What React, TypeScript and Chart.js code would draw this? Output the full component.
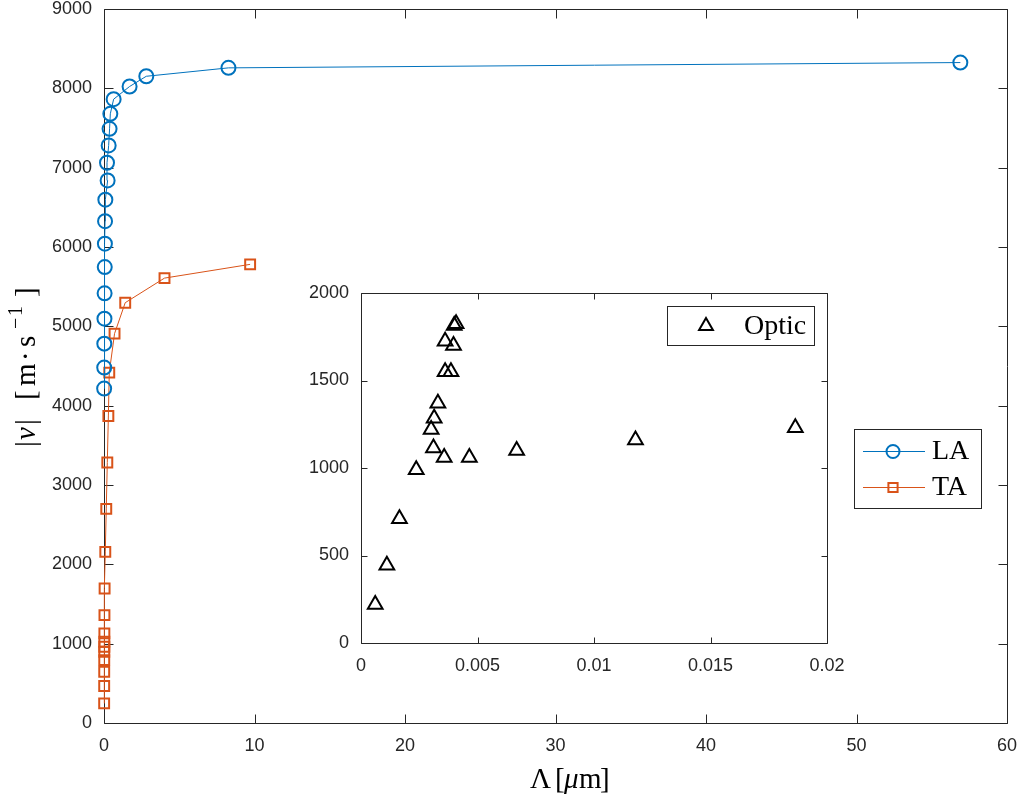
import React, { useEffect, useRef } from "react";
import { Chart, registerables } from "chart.js";

Chart.register(...registerables);

// Longitudinal acoustic branch: wavelength (µm) and |v| (m/s)
const laWavelength = [0.01, 0.015, 0.02, 0.03, 0.04, 0.05, 0.06, 0.07, 0.09, 0.24, 0.2, 0.31, 0.37, 0.42, 0.64, 1.7, 2.81, 8.27, 56.9];
const laSpeed = [4215, 4480, 4782, 5097, 5416, 5747, 6042, 6326, 6596, 6839, 7062, 7280, 7490, 7679, 7863, 8023, 8152, 8258, 8325];

// Transverse acoustic branch
const taWavelength = [0.01, 0.012, 0.014, 0.016, 0.018, 0.02, 0.022, 0.025, 0.03, 0.04, 0.086, 0.15, 0.22, 0.29, 0.35, 0.7, 1.41, 4.02, 9.71];
const taSpeed = [248, 466, 646, 793, 898, 961, 1024, 1130, 1360, 1696, 2157, 2699, 3283, 3870, 4417, 4908, 5298, 5608, 5781];

// Optic branch (inset)
const opticWavelength = [0.00061, 0.00111, 0.00165, 0.00237, 0.00301, 0.00311, 0.00314, 0.0033, 0.00357, 0.00361, 0.00361, 0.00386, 0.00397, 0.004, 0.00408, 0.00465, 0.00668, 0.01178, 0.01864];
const opticSpeed = [220, 445, 710, 990, 1220, 1115, 1285, 1370, 1060, 1725, 1550, 1550, 1700, 1815, 1825, 1060, 1100, 1160, 1230];

// Tick values and labels
const mainXTicks = [0, 10, 20, 30, 40, 50, 60];
const mainYTicks = [0, 1000, 2000, 3000, 4000, 5000, 6000, 7000, 8000, 9000];
const insetXTicks = [0, 0.005, 0.01, 0.015, 0.02];
const insetXTickLabels = ["0", "0.005", "0.01", "0.015", "0.02"];
const insetYTicks = [0, 500, 1000, 1500, 2000];

const seriesNames = ["LA", "TA", "Optic"];

const W = 1021;
const H = 798;
const AXIS = "#262626";
const LA_COLOR = "#0072BD";
const TA_COLOR = "#D95319";
const SANS = "'Liberation Sans', Arial, sans-serif";
const SERIF = "'Liberation Serif', 'Times New Roman', serif";
const TEXT_SIZE = 28;
const TITLE_SIZE = 29;

// A glyph run: each piece is placed at its own offset along the baseline
type Glyph = { t: string; at: number; it?: boolean; sup?: boolean };

function drawGlyphs(ctx: CanvasRenderingContext2D, glyphs: Glyph[], size: number) {
  ctx.textBaseline = "alphabetic";
  ctx.textAlign = "left";
  glyphs.forEach((g) => {
    const s = g.sup ? Math.round(size * 0.7) : size;
    ctx.font = `${g.it ? "italic " : ""}${s}px ${SERIF}`;
    ctx.fillText(g.t, g.at, g.sup ? -size * 0.45 : 0);
  });
}

const xTitle: Glyph[] = [
  { t: "Λ", at: 0 },
  { t: "[", at: 25 },
  { t: "μ", at: 34, it: true },
  { t: "m", at: 49 },
  { t: "]", at: 70 },
];

const yTitle: Glyph[] = [
  { t: "|", at: 0 },
  { t: "v", at: 7, it: true },
  { t: "|", at: 22 },
  { t: "[", at: 47 },
  { t: "m", at: 61 },
  { t: "·", at: 86 },
  { t: "s", at: 100 },
  { t: "−", at: 118, sup: true },
  { t: "1", at: 131, sup: true },
  { t: "]", at: 150 },
];

function pts(xs: number[], ys: number[]) {
  return xs.map((x, i) => ({ x, y: ys[i] }));
}

// Box with inward ticks on all four sides
function framePlugin(xTicks: number[], yTicks: number[], len: number) {
  return {
    id: "frame",
    beforeDatasetsDraw(chart: any) {
      const { ctx, chartArea: a, scales } = chart;
      const L = Math.round(a.left) + 0.5;
      const R = Math.round(a.right) + 0.5;
      const T = Math.round(a.top) + 0.5;
      const B = Math.round(a.bottom) + 0.5;
      ctx.save();
      ctx.strokeStyle = AXIS;
      ctx.lineWidth = 1;
      ctx.beginPath();
      ctx.rect(L, T, R - L, B - T);
      xTicks.forEach((v) => {
        const px = Math.round(scales.x.getPixelForValue(v)) + 0.5;
        ctx.moveTo(px, B);
        ctx.lineTo(px, B - len);
        ctx.moveTo(px, T);
        ctx.lineTo(px, T + len);
      });
      yTicks.forEach((v) => {
        const py = Math.round(scales.y.getPixelForValue(v)) + 0.5;
        ctx.moveTo(L, py);
        ctx.lineTo(L + len, py);
        ctx.moveTo(R, py);
        ctx.lineTo(R - len, py);
      });
      ctx.stroke();
      ctx.restore();
    },
  };
}

function drawMarker(ctx: CanvasRenderingContext2D, style: string, x: number, y: number, r: number) {
  ctx.beginPath();
  if (style === "circle") {
    ctx.arc(x, y, r, 0, Math.PI * 2);
  } else if (style === "rect") {
    const s = r * Math.SQRT1_2;
    ctx.rect(x - s, y - s, 2 * s, 2 * s);
  } else {
    for (let k = 0; k < 3; k++) {
      const ang = (k * 2 * Math.PI) / 3;
      const px = x + Math.sin(ang) * r;
      const py = y - Math.cos(ang) * r;
      if (k === 0) ctx.moveTo(px, py);
      else ctx.lineTo(px, py);
    }
    ctx.closePath();
  }
  ctx.stroke();
}

const mainDecor = {
  id: "mainDecor",
  afterDraw(chart: any) {
    const { ctx } = chart;
    ctx.save();
    ctx.fillStyle = "#000";
    // x-axis title
    ctx.save();
    ctx.translate(530, 788);
    drawGlyphs(ctx, xTitle, TITLE_SIZE);
    ctx.restore();
    // y-axis title, reading upwards
    ctx.save();
    ctx.translate(35, 447);
    ctx.rotate(-Math.PI / 2);
    drawGlyphs(ctx, yTitle, TITLE_SIZE);
    ctx.restore();

    // legend
    const bx = 854.5, by = 429.5, bw = 127, bh = 79;
    ctx.fillStyle = "#fff";
    ctx.fillRect(bx, by, bw, bh);
    ctx.strokeStyle = AXIS;
    ctx.lineWidth = 1;
    ctx.strokeRect(bx, by, bw, bh);
    const rows = [
      { name: seriesNames[0], color: LA_COLOR, style: "circle", r: 6.5, y: 451 },
      { name: seriesNames[1], color: TA_COLOR, style: "rect", r: 6.5, y: 487 },
    ];
    rows.forEach((row) => {
      ctx.strokeStyle = row.color;
      ctx.lineWidth = 1;
      ctx.beginPath();
      ctx.moveTo(863, row.y + 0.5);
      ctx.lineTo(925, row.y + 0.5);
      ctx.stroke();
      ctx.lineWidth = 2;
      drawMarker(ctx, row.style, 893, row.y + 0.5, row.r);
      ctx.fillStyle = "#000";
      ctx.font = `${TEXT_SIZE}px ${SERIF}`;
      ctx.textAlign = "left";
      ctx.textBaseline = "middle";
      ctx.fillText(row.name, 932, row.y + 1);
    });
    ctx.restore();
  },
};

const insetDecor = {
  id: "insetDecor",
  beforeDraw(chart: any) {
    const { ctx, chartArea: a } = chart;
    ctx.save();
    ctx.fillStyle = "#fff";
    ctx.fillRect(a.left, a.top, a.right - a.left, a.bottom - a.top);
    ctx.restore();
  },
  afterDraw(chart: any) {
    const { ctx } = chart;
    ctx.save();
    const bx = 667.5, by = 306.5, bw = 147, bh = 39;
    ctx.fillStyle = "#fff";
    ctx.fillRect(bx, by, bw, bh);
    ctx.strokeStyle = AXIS;
    ctx.lineWidth = 1;
    ctx.strokeRect(bx, by, bw, bh);
    ctx.strokeStyle = "#000";
    ctx.lineWidth = 2;
    drawMarker(ctx, "triangle", 706, 326, 8);
    ctx.fillStyle = "#000";
    ctx.font = `${TEXT_SIZE}px ${SERIF}`;
    ctx.textAlign = "left";
    ctx.textBaseline = "middle";
    ctx.fillText(seriesNames[2], 744, 327);
    ctx.restore();
  },
};

const tickFont = { family: SANS, size: 18 };

function fixSize(prop: "width" | "height", value: number) {
  return (s: any) => {
    s[prop] = value;
    s.paddingLeft = 0;
    s.paddingRight = 0;
    s.paddingTop = 0;
    s.paddingBottom = 0;
  };
}

export default function App() {
  const mainRef = useRef<HTMLCanvasElement>(null);
  const insetRef = useRef<HTMLCanvasElement>(null);

  useEffect(() => {
    const main = new Chart(mainRef.current as HTMLCanvasElement, {
      type: "scatter",
      data: {
        datasets: [
          {
            label: seriesNames[0],
            data: pts(laWavelength, laSpeed),
            showLine: true,
            borderColor: LA_COLOR,
            borderWidth: 1,
            pointStyle: "circle",
            pointRadius: 7,
            pointBorderWidth: 2,
            pointBorderColor: LA_COLOR,
            pointBackgroundColor: "rgba(0,0,0,0)",
            clip: false,
          },
          {
            label: seriesNames[1],
            data: pts(taWavelength, taSpeed),
            showLine: true,
            borderColor: TA_COLOR,
            borderWidth: 1,
            pointStyle: "rect",
            pointRadius: 7,
            pointBorderWidth: 2,
            pointBorderColor: TA_COLOR,
            pointBackgroundColor: "rgba(0,0,0,0)",
            clip: false,
          },
        ],
      } as any,
      options: {
        animation: false,
        responsive: false,
        devicePixelRatio: 1,
        events: [],
        layout: { padding: { left: 0, top: 8, right: 14, bottom: 0 } },
        plugins: { legend: { display: false }, tooltip: { enabled: false } },
        scales: {
          x: {
            type: "linear",
            min: 0,
            max: 60,
            afterFit: fixSize("height", H - 723),
            afterBuildTicks: (s: any) => { s.ticks = mainXTicks.map((v) => ({ value: v })); },
            grid: { display: false, drawTicks: false },
            border: { display: false },
            ticks: { padding: 12, font: tickFont, color: AXIS, maxRotation: 0, autoSkip: false },
          },
          y: {
            type: "linear",
            min: 0,
            max: 9000,
            afterFit: fixSize("width", 104),
            afterBuildTicks: (s: any) => { s.ticks = mainYTicks.map((v) => ({ value: v })); },
            grid: { display: false, drawTicks: false },
            border: { display: false },
            ticks: { padding: 12, font: tickFont, color: AXIS, autoSkip: false, callback: (v: any) => String(v) },
          },
        },
      } as any,
      plugins: [framePlugin(mainXTicks, mainYTicks, 9), mainDecor],
    });

    const inset = new Chart(insetRef.current as HTMLCanvasElement, {
      type: "scatter",
      data: {
        datasets: [
          {
            label: seriesNames[2],
            data: pts(opticWavelength, opticSpeed),
            showLine: false,
            pointStyle: "triangle",
            pointRadius: 8.5,
            pointBorderWidth: 2,
            pointBorderColor: "#000",
            pointBackgroundColor: "rgba(0,0,0,0)",
            clip: false,
          },
        ],
      } as any,
      options: {
        animation: false,
        responsive: false,
        devicePixelRatio: 1,
        events: [],
        layout: { padding: { left: 0, top: 293, right: W - 827, bottom: 0 } },
        plugins: { legend: { display: false }, tooltip: { enabled: false } },
        scales: {
          x: {
            type: "linear",
            min: 0,
            max: 0.02,
            afterFit: fixSize("height", H - 643),
            afterBuildTicks: (s: any) => { s.ticks = insetXTicks.map((v) => ({ value: v })); },
            grid: { display: false, drawTicks: false },
            border: { display: false },
            ticks: {
              padding: 12,
              font: tickFont,
              color: AXIS,
              maxRotation: 0,
              autoSkip: false,
              callback: (_v: any, i: number) => insetXTickLabels[i],
            },
          },
          y: {
            type: "linear",
            min: 0,
            max: 2000,
            afterFit: fixSize("width", 361),
            afterBuildTicks: (s: any) => { s.ticks = insetYTicks.map((v) => ({ value: v })); },
            grid: { display: false, drawTicks: false },
            border: { display: false },
            ticks: { padding: 12, font: tickFont, color: AXIS, autoSkip: false, callback: (v: any) => String(v) },
          },
        },
      } as any,
      plugins: [insetDecor, framePlugin(insetXTicks, insetYTicks, 6)],
    });

    return () => {
      main.destroy();
      inset.destroy();
    };
  }, []);

  return (
    <div style={{ position: "fixed", left: 0, top: 0, width: W, height: H, background: "#fff" }}>
      <canvas ref={mainRef} width={W} height={H} style={{ position: "absolute", left: 0, top: 0 }} />
      <canvas ref={insetRef} width={W} height={H} style={{ position: "absolute", left: 0, top: 0 }} />
    </div>
  );
}
